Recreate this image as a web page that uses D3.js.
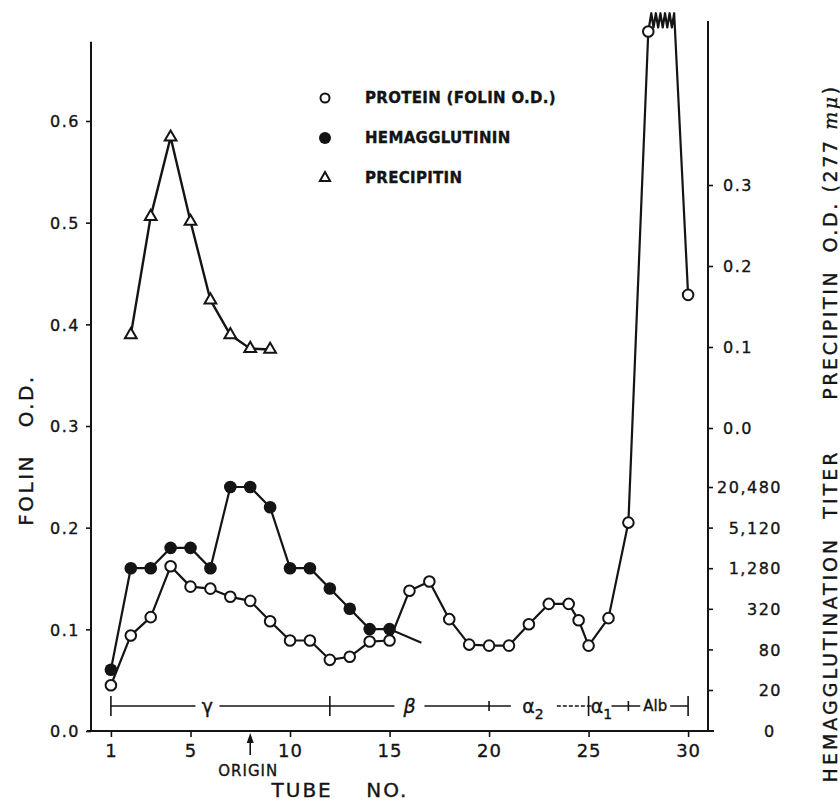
<!DOCTYPE html>
<html><head><meta charset="utf-8">
<script src="https://cdn.jsdelivr.net/npm/d3@7"></script>
<style>
body{margin:0;background:#fff}
svg{display:block}
text{font-family:"DejaVu Sans",sans-serif;fill:#141414;stroke:#141414;stroke-width:0.35px}
</style>
</head><body>
<svg id="c" width="840" height="804"></svg>
<script>
// ---------- data ----------
const proteinTube = [1,2,3,4,5,6,7,8,9,10,11,12,13,14,15,16,17,18,19,20,21,22,23,24,24.5,25,26,27,28,30];
const proteinOD   = [0.045,0.094,0.112,0.162,0.142,0.140,0.132,0.128,0.108,0.089,0.089,0.070,0.073,0.088,0.089,0.138,0.147,0.110,0.085,0.084,0.084,0.105,0.125,0.125,0.109,0.084,0.111,0.205,0.688,0.429];
// off-scale stretch of the protein curve (between tube 28 and tube 30)
const proteinOffscaleTubes = [28.15, 29.3];
const proteinOffscaleLevel = [0.692, 0.706];

const hemagTube  = [1,2,3,4,5,6,7,8,9,10,11,12,13,14,15];
const hemagTiter = [40,1280,1280,2560,2560,1280,20480,20480,10240,1280,1280,640,320,160,160];
const hemagTail  = [16.6, 100];

const precipTube = [2,3,4,5,6,7,8,9];
const precipOD   = [0.115,0.261,0.359,0.255,0.158,0.115,0.098,0.097];

const xTicks      = [1,5,10,15,20,25,30];
const folinTicks  = [0,0.1,0.2,0.3,0.4,0.5,0.6];
const precipTicks = [0,0.1,0.2,0.3];
const titerTicks  = [20,80,320,1280,5120,20480];
const titerLabels = ["20","80","320","1,280","5,120","20,480"];

const fractionBounds = [1,12,20,25,27,30];
const fractionMajor  = [true,true,false,true,false,true];
const fractionNames  = ["γ","β","α","α","Alb"];
const fractionSubs   = ["","","2","1",""];
const fractionLabelAt= [5.85,16.0,22.2,25.65,28.35];

const legendNames = ["PROTEIN (FOLIN O.D.)","HEMAGGLUTININ","PRECIPITIN"];
const originTube = 8;

// ---------- scales ----------
const ink = "#141414";
const svg = d3.select("#c");
const x  = d3.scaleLinear().domain([0,31]).range([91,708]);
const yF = d3.scaleLinear().domain([0,0.6]).range([731,121]);
const yP = d3.scaleLinear().domain([0,0.3]).range([428,185]);
const yH = d3.scaleLog().base(2).domain([20,20480]).range([690,487]);

// ---------- axes ----------
const axisStyle = g => {
  g.select(".domain").remove();
  g.selectAll(".tick line").attr("stroke",ink).attr("stroke-width",1.6);
  g.selectAll(".tick text").attr("fill",ink).style("font-family","DejaVu Sans");
};
// left
const gl = svg.append("g").attr("transform",`translate(${x(0)},0)`)
  .call(d3.axisLeft(yF).tickValues(folinTicks).tickFormat(d3.format(".1f")).tickSize(5))
  .call(axisStyle);
gl.selectAll(".tick text").attr("x",-11).attr("dy","0.36em").style("font-size","16px").style("letter-spacing","1.5px");
svg.append("line").attr("x1",x(0)).attr("x2",x(0)).attr("y1",yF(0)).attr("y2",yF(0.678))
  .attr("stroke",ink).attr("stroke-width",2);

// right: precipitin
const gp = svg.append("g").attr("transform",`translate(${x(31)},0)`)
  .call(d3.axisRight(yP).tickValues(precipTicks).tickFormat(d3.format(".1f")).tickSize(5))
  .call(axisStyle);
gp.selectAll(".tick text").attr("x",15).attr("dy","0.36em").style("font-size","16px").style("letter-spacing","1.5px");
// right: hemagglutination titer
const gh = svg.append("g").attr("transform",`translate(${x(31)},0)`)
  .call(d3.axisRight(yH).tickValues(titerTicks).tickFormat((d,i)=>titerLabels[i]).tickSize(5))
  .call(axisStyle);
gh.selectAll(".tick text").attr("x",74).attr("text-anchor","end").attr("dy","0.36em").style("font-size","16px").style("letter-spacing","1.5px");
svg.append("text").attr("x",x(31)+61).attr("y",yF(0)).attr("dy","0.36em").attr("text-anchor","middle")
  .style("font-size","16px").text("0");
svg.append("line").attr("x1",x(31)).attr("x2",x(31)).attr("y1",yF(0)).attr("y2",21)
  .attr("stroke",ink).attr("stroke-width",2);

// bottom
const gb = svg.append("g").attr("transform",`translate(0,${yF(0)})`)
  .call(d3.axisBottom(x).tickValues(xTicks).tickSize(6))
  .call(axisStyle);
gb.selectAll(".tick text").attr("y",26).attr("dy",0).style("font-size","18px").style("letter-spacing","1px");
svg.append("line").attr("x1",x(0)-4).attr("x2",x(31.3)).attr("y1",yF(0)).attr("y2",yF(0))
  .attr("stroke",ink).attr("stroke-width",2);

// origin arrow
const ox = x(originTube);
svg.append("line").attr("x1",ox).attr("x2",ox).attr("y1",yF(0)+8).attr("y2",yF(0)+24).attr("stroke",ink).attr("stroke-width",1.6);
svg.append("path").attr("d",`M${ox},${yF(0)+2}L${ox-3.5},${yF(0)+12}L${ox+3.5},${yF(0)+12}Z`).attr("fill",ink);
svg.append("text").attr("x",ox-2).attr("y",yF(0)+45).attr("text-anchor","middle")
  .style("font-size","15px").style("letter-spacing","1px").text("ORIGIN");

// axis titles
svg.append("text").attr("x",340).attr("y",797).attr("text-anchor","middle").attr("xml:space","preserve")
  .style("font-size","20px").style("letter-spacing","2px").text("TUBE    NO.");
svg.append("text").attr("transform","translate(33,450) rotate(-90)").attr("text-anchor","middle").attr("xml:space","preserve")
  .style("font-size","20px").style("letter-spacing","2.5px").text("FOLIN   O.D.");
const tp = svg.append("text").attr("transform","translate(837,242) rotate(-90)").attr("text-anchor","middle").attr("xml:space","preserve")
  .style("font-size","19px").style("letter-spacing","2.6px");
tp.append("tspan").text("PRECIPITIN  O.D. (277 ");
tp.append("tspan").style("font-style","italic").style("font-family","DejaVu Serif").text("mμ");
tp.append("tspan").text(")");
svg.append("text").attr("transform","translate(837,616) rotate(-90)").attr("text-anchor","middle").attr("xml:space","preserve")
  .style("font-size","19px").style("letter-spacing","3px").text("HEMAGGLUTINATION  TITER");

// ---------- fraction bracket ----------
const by = 706;
const gapHalf = [12,15,22,10,15];
const gfr = svg.append("g");
fractionNames.forEach((n,i)=>{
  const a = x(fractionBounds[i]), b = x(fractionBounds[i+1]), c = x(fractionLabelAt[i]);
  gfr.append("line").attr("x1",a).attr("x2",c-gapHalf[i]).attr("y1",by).attr("y2",by).attr("stroke",ink).attr("stroke-width",1.5);
  const seg = gfr.append("line").attr("x1",c+gapHalf[i]+(i===2?2:0)).attr("x2",b).attr("y1",by).attr("y2",by).attr("stroke",ink).attr("stroke-width",1.5);
  if (i===2) seg.attr("stroke-dasharray","4,2");
  const t = gfr.append("text").attr("x",c).attr("y",by).attr("dy","0.35em").attr("text-anchor","middle")
    .style("font-size", n==="Alb" ? "15px" : "19px");
  if (n==="β") t.style("font-style","italic");
  t.append("tspan").text(n);
  if (fractionSubs[i]) t.append("tspan").attr("dy","0.45em").style("font-size","14px").text(fractionSubs[i]);
});
fractionBounds.forEach((b,i)=>{
  const h = fractionMajor[i] ? 10 : 5;
  gfr.append("line").attr("x1",x(b)).attr("x2",x(b)).attr("y1",by-h).attr("y2",by+h).attr("stroke",ink).attr("stroke-width",1.6);
});

// ---------- series lines ----------
const hemagPts = hemagTube.map((t,i)=>[x(t),yH(hemagTiter[i])]);
const precipPts = precipTube.map((t,i)=>[x(t),yP(precipOD[i])]);
const protPts = proteinTube.map((t,i)=>[x(t),yF(proteinOD[i])]);

const line = d3.line();
svg.append("path").attr("d",line(hemagPts.concat([[x(hemagTail[0]),yH(hemagTail[1])]])))
  .attr("fill","none").attr("stroke",ink).attr("stroke-width",2.2);
svg.append("path").attr("d",line(precipPts)).attr("fill","none").attr("stroke",ink).attr("stroke-width",2.4);

// protein curve with off-scale zigzag
const nz = 10;
const zig = d3.range(nz+1).map(k=>{
  const t = proteinOffscaleTubes[0] + (proteinOffscaleTubes[1]-proteinOffscaleTubes[0])*k/nz;
  return [x(t), yF(proteinOffscaleLevel[k%2===0?1:0])];
});
const mainProt = protPts.slice(0, protPts.length-1);
const protPath = mainProt.concat(zig).concat([protPts[protPts.length-1]]);
svg.append("path").attr("d",line(protPath)).attr("fill","none").attr("stroke",ink).attr("stroke-width",2.2).attr("stroke-linejoin","round");

// ---------- markers ----------
svg.append("g").selectAll("circle").data(hemagPts).join("circle")
  .attr("cx",d=>d[0]).attr("cy",d=>d[1]).attr("r",6.3).attr("fill",ink);
const tri = d3.symbol().type(d3.symbolTriangle).size(60);
svg.append("g").selectAll("path").data(precipPts).join("path")
  .attr("transform",d=>`translate(${d[0]},${d[1]})`).attr("d",tri).attr("fill","#fff").attr("stroke",ink).attr("stroke-width",2);
svg.append("g").selectAll("circle").data(protPts).join("circle")
  .attr("cx",d=>d[0]).attr("cy",d=>d[1]).attr("r",5.3).attr("fill","#fff").attr("stroke",ink).attr("stroke-width",2);

// ---------- legend ----------
const lg = svg.append("g");
const lx = 325, ly0 = 98, ldy = 40;
lg.append("circle").attr("cx",lx).attr("cy",ly0).attr("r",4.5).attr("fill","#fff").attr("stroke",ink).attr("stroke-width",2);
lg.append("circle").attr("cx",lx).attr("cy",ly0+ldy).attr("r",6).attr("fill",ink);
lg.append("path").attr("transform",`translate(${lx},${ly0+2*ldy})`).attr("d",d3.symbol().type(d3.symbolTriangle).size(45)).attr("fill","#fff").attr("stroke",ink).attr("stroke-width",2);
legendNames.forEach((n,i)=>{
  lg.append("text").attr("x",365).attr("y",ly0+i*ldy).attr("dy","0.36em")
    .style("font-size","15px").style("font-weight","bold").style("letter-spacing","0.3px").text(n);
});
</script>
</body></html>
